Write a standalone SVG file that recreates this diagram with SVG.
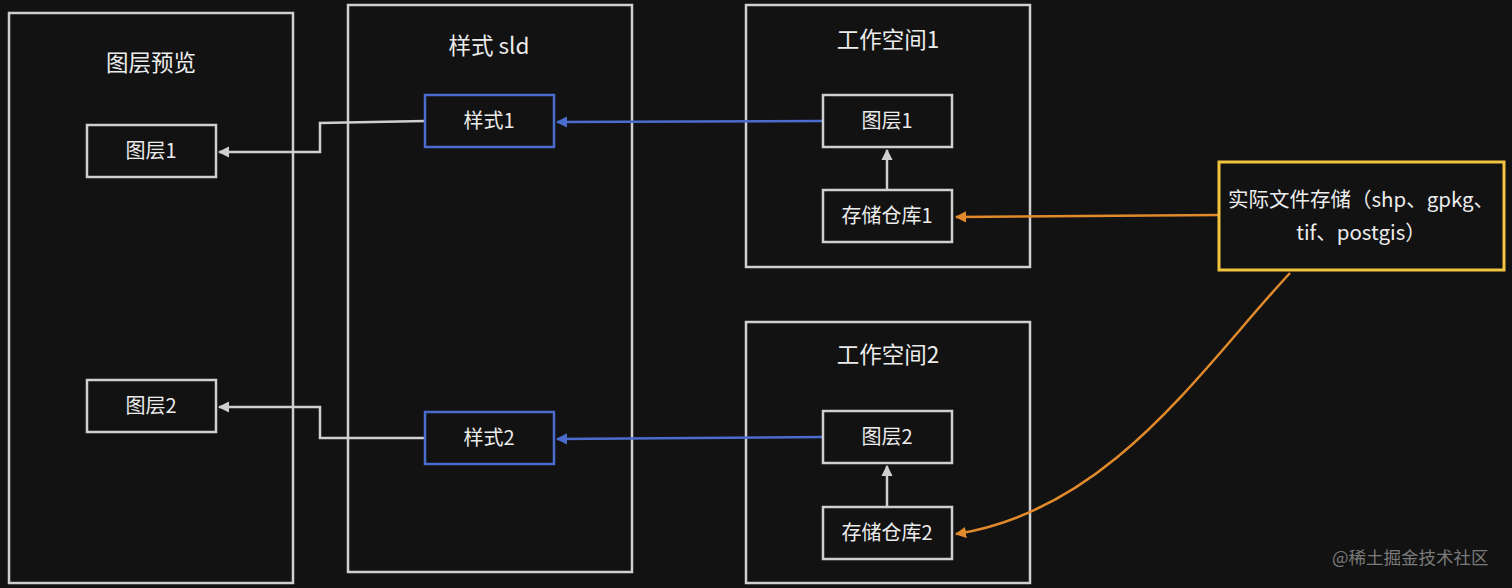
<svg xmlns="http://www.w3.org/2000/svg" width="1512" height="588" viewBox="0 0 1512 588">
<defs>
<style>
.frame{fill:none;stroke:#cfcfcf;stroke-width:2.5}
.node{fill:#121212;stroke:#cfcfcf;stroke-width:2.5}
.blue{fill:#121212;stroke:#4a6ccc;stroke-width:2.5}
.yel{fill:#121212;stroke:#f2c340;stroke-width:3}
.t{font-family:"Noto Sans CJK SC","Noto Sans",sans-serif;fill:#ececec;text-anchor:middle}
.title{font-size:22.5px}
.lab{font-size:20px}
.big{font-size:20.5px}
.cg{fill:none;stroke:#cfcfcf;stroke-width:2.5}
.cb{fill:none;stroke:#4a6ccc;stroke-width:2.5}
.co{fill:none;stroke:#e08a2c;stroke-width:2.5}
.wm{font-family:"Noto Sans CJK SC",sans-serif;font-size:17.5px;fill:#7a7a7a}
</style>
<marker id="ag" viewBox="0 0 10 10" refX="9" refY="5" markerWidth="4.5" markerHeight="4.5" orient="auto-start-reverse"><path d="M0,0 L10,5 L0,10 z" fill="#cfcfcf"/></marker>
<marker id="ab" viewBox="0 0 10 10" refX="9" refY="5" markerWidth="4.5" markerHeight="4.5" orient="auto-start-reverse"><path d="M0,0 L10,5 L0,10 z" fill="#4a6ccc"/></marker>
<marker id="ao" viewBox="0 0 10 10" refX="9" refY="5" markerWidth="4.5" markerHeight="4.5" orient="auto-start-reverse"><path d="M0,0 L10,5 L0,10 z" fill="#e08a2c"/></marker>
</defs>
<rect width="1512" height="588" fill="#121212"/>

<g id="preview">
<rect class="frame" x="9" y="13" width="284" height="570"/>
<text class="t title" x="151" y="71">图层预览</text>
</g>
<g id="sld">
<rect class="frame" x="348" y="5" width="284" height="567"/>
<text class="t title" x="489" y="54">样式 sld</text>
</g>
<g id="ws1">
<rect class="frame" x="746" y="5" width="284" height="262"/>
<text class="t title" x="888" y="48">工作空间1</text>
</g>
<g id="ws2">
<rect class="frame" x="746" y="322" width="284" height="261"/>
<text class="t title" x="888" y="363">工作空间2</text>
</g>

<g id="connectors">
<path class="cg" d="M425,121 L320,123 L320,152 L219,152" marker-end="url(#ag)"/>
<path class="cg" d="M425,438 L320,438 L320,407 L219,407" marker-end="url(#ag)"/>
<path class="cb" d="M823,121 L557,122" marker-end="url(#ab)"/>
<path class="cb" d="M823,437 L557,439" marker-end="url(#ab)"/>
<path class="cg" d="M887,190 L887,150" marker-end="url(#ag)"/>
<path class="cg" d="M887,507 L887,466" marker-end="url(#ag)"/>
<path class="co" d="M1219,215 L956,217" marker-end="url(#ao)"/>
<path class="co" d="M1290,273 C1200,370 1110,510 956,534" marker-end="url(#ao)"/>
</g>

<g id="layer1-left">
<rect class="node" x="87" y="125" width="129" height="52"/>
<text class="t lab" x="151" y="158">图层1</text>
</g>
<g id="layer2-left">
<rect class="node" x="87" y="380" width="129" height="52"/>
<text class="t lab" x="151" y="413">图层2</text>
</g>
<g id="style1">
<rect class="blue" x="425" y="95" width="129" height="52"/>
<text class="t lab" x="489" y="128">样式1</text>
</g>
<g id="style2">
<rect class="blue" x="425" y="412" width="129" height="52"/>
<text class="t lab" x="489" y="445">样式2</text>
</g>
<g id="layer1-right">
<rect class="node" x="823" y="95" width="129" height="52"/>
<text class="t lab" x="887" y="128">图层1</text>
</g>
<g id="store1">
<rect class="node" x="823" y="190" width="129" height="52"/>
<text class="t lab" x="887" y="223">存储仓库1</text>
</g>
<g id="layer2-right">
<rect class="node" x="823" y="411" width="129" height="52"/>
<text class="t lab" x="887" y="444">图层2</text>
</g>
<g id="store2">
<rect class="node" x="823" y="507" width="129" height="52"/>
<text class="t lab" x="887" y="540">存储仓库2</text>
</g>
<g id="files">
<rect class="yel" x="1219" y="162" width="285" height="108"/>
<text class="t big" x="1361" y="207">实际文件存储（shp、gpkg、</text>
<text class="t big" x="1361" y="240">tif、postgis）</text>
</g>

<text class="wm" x="1332" y="564">@稀土掘金技术社区</text>
</svg>
